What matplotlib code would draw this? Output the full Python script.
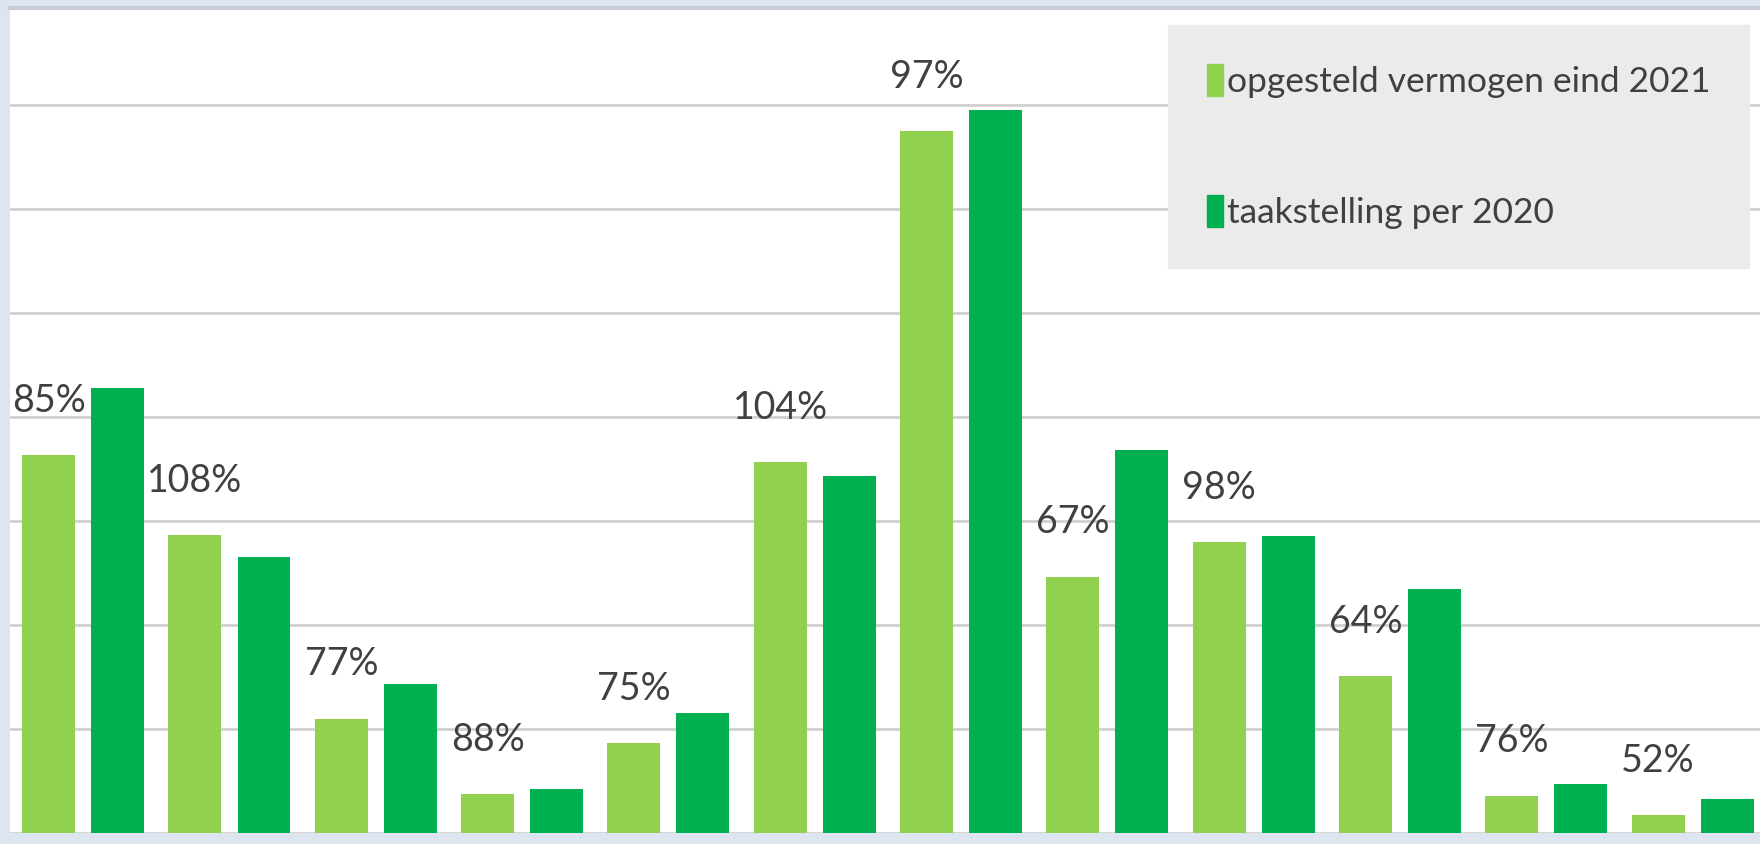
import numpy as np
import matplotlib
matplotlib.use("Agg")
import matplotlib.pyplot as plt
from matplotlib.patches import Patch

# Wind op land per provincie (MW)
provinces = ["Groningen", "Friesland", "Drenthe", "Overijssel", "Gelderland",
             "Noord-Holland", "Flevoland", "Zuid-Holland", "Zeeland",
             "Noord-Brabant", "Limburg", "Utrecht"]
installed_2021 = [727, 573, 220, 75, 173, 713, 1349, 493, 559, 301, 72, 34]
target_2020 = [855.5, 530.5, 285.5, 85.5, 230.5, 685.5, 1390.5, 735.5, 570, 470, 95, 65.5]
pct_labels = ["85%", "108%", "77%", "88%", "75%", "104%", "97%", "67%", "98%", "64%", "76%", "52%"]

series_names = ["opgesteld vermogen eind 2021", "taakstelling per 2020"]
light_green = "#92d050"
dark_green = "#00b050"
text_color = "#404040"
font = ["Lato", "DejaVu Sans"]

fig = plt.figure(figsize=(17.6, 8.44), dpi=100, facecolor="#dce5f0")
ax = fig.add_axes([10 / 1760, 11 / 844, 1750 / 1760, 825 / 844])
ax.set_facecolor("white")

x = np.arange(len(provinces))
width = 0.362
offset = 0.236
ax.bar(x - offset, installed_2021, width, color=light_green, zorder=2)
ax.bar(x + offset, target_2020, width, color=dark_green, zorder=2)

for xi, val, lab in zip(x, installed_2021, pct_labels):
    ax.annotate(lab, (xi - offset, val), xytext=(0, 39), textcoords="offset points",
                ha="center", va="center", fontsize=27, color=text_color, family=font)

ax.set_xlim(-0.5, 11.46)
ax.set_ylim(0, 1586)
ax.set_yticks(np.arange(0, 1401, 200))
ax.set_xticks([])
ax.tick_params(left=False, labelleft=False)
ax.grid(axis="y", color="#d0d0d0", linewidth=2, zorder=0)
for s in ["left", "right", "bottom"]:
    ax.spines[s].set_visible(False)
ax.spines["top"].set_color("#c8ccd4")
ax.spines["top"].set_linewidth(3)

handles = [Patch(color=light_green), Patch(color=dark_green)]
leg = ax.legend(handles, series_names, loc="upper right",
                bbox_to_anchor=(1 - 11 / 1760, 1 - 17 / 825),
                bbox_transform=ax.transAxes,
                prop={"family": font, "size": 25.5}, labelcolor=text_color,
                handlelength=0.45, handleheight=1.0, handletextpad=0.1,
                labelspacing=2.75, borderpad=1.1, borderaxespad=0,
                frameon=True, fancybox=False, facecolor="#ebebeb",
                edgecolor="#ebebeb", framealpha=1)
leg.set_zorder(5)

fig.savefig("out.png", dpi=100, facecolor=fig.get_facecolor())
